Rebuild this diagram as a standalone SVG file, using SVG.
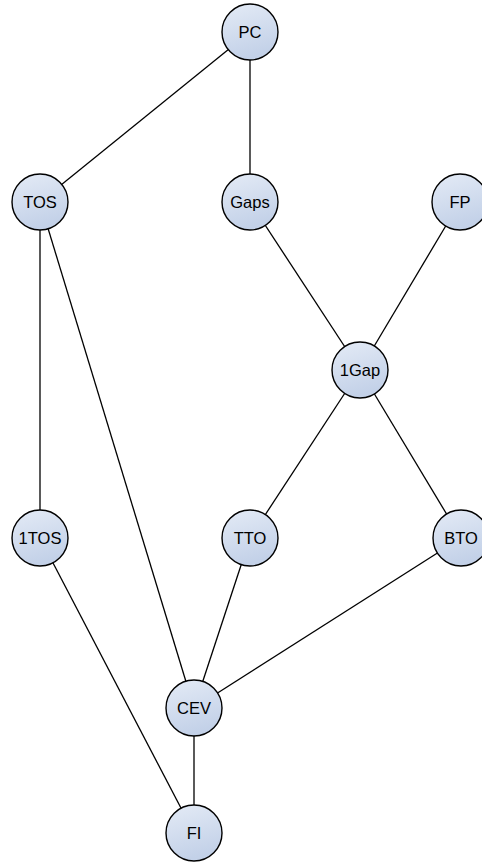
<svg xmlns="http://www.w3.org/2000/svg" width="482" height="864" viewBox="0 0 482 864">
<defs>
<linearGradient id="g" x1="0" y1="0" x2="0.3" y2="1">
<stop offset="0" stop-color="#e4ebf6"/>
<stop offset="1" stop-color="#c3d1e8"/>
</linearGradient>
</defs>
<style>
.n circle{fill:url(#g);stroke:#000;stroke-width:1.4}
.n text{font-family:"Liberation Sans",Arial,sans-serif;font-size:16.5px;text-anchor:middle;dominant-baseline:central;fill:#000}
#edges line{stroke:#000;stroke-width:1.3}
</style>
<rect width="482" height="864" fill="#fff"/>
<g id="edges">
<line x1="250" y1="32" x2="40" y2="202"/>
<line x1="250" y1="32" x2="250" y2="202"/>
<line x1="40" y1="202" x2="40" y2="538"/>
<line x1="40" y1="202" x2="194" y2="708"/>
<line x1="250" y1="202" x2="360" y2="370"/>
<line x1="460" y1="202" x2="360" y2="370"/>
<line x1="360" y1="370" x2="250" y2="538"/>
<line x1="360" y1="370" x2="461" y2="538"/>
<line x1="40" y1="538" x2="194" y2="833"/>
<line x1="250" y1="538" x2="194" y2="708"/>
<line x1="461" y1="538" x2="194" y2="708"/>
<line x1="194" y1="708" x2="194" y2="833"/>
</g>
<g id="PC" class="n"><circle cx="250" cy="32" r="28"/><text x="250" y="32">PC</text></g>
<g id="TOS" class="n"><circle cx="40" cy="202" r="28"/><text x="40" y="202">TOS</text></g>
<g id="Gaps" class="n"><circle cx="250" cy="202" r="28"/><text x="250" y="202">Gaps</text></g>
<g id="FP" class="n"><circle cx="460" cy="202" r="28"/><text x="460" y="202">FP</text></g>
<g id="1Gap" class="n"><circle cx="360" cy="370" r="28"/><text x="360" y="370">1Gap</text></g>
<g id="1TOS" class="n"><circle cx="40" cy="538" r="28"/><text x="40" y="538">1TOS</text></g>
<g id="TTO" class="n"><circle cx="250" cy="538" r="28"/><text x="250" y="538">TTO</text></g>
<g id="BTO" class="n"><circle cx="461" cy="538" r="28"/><text x="461" y="538">BTO</text></g>
<g id="CEV" class="n"><circle cx="194" cy="708" r="28"/><text x="194" y="708">CEV</text></g>
<g id="FI" class="n"><circle cx="194" cy="833" r="28"/><text x="194" y="833">FI</text></g>
</svg>
